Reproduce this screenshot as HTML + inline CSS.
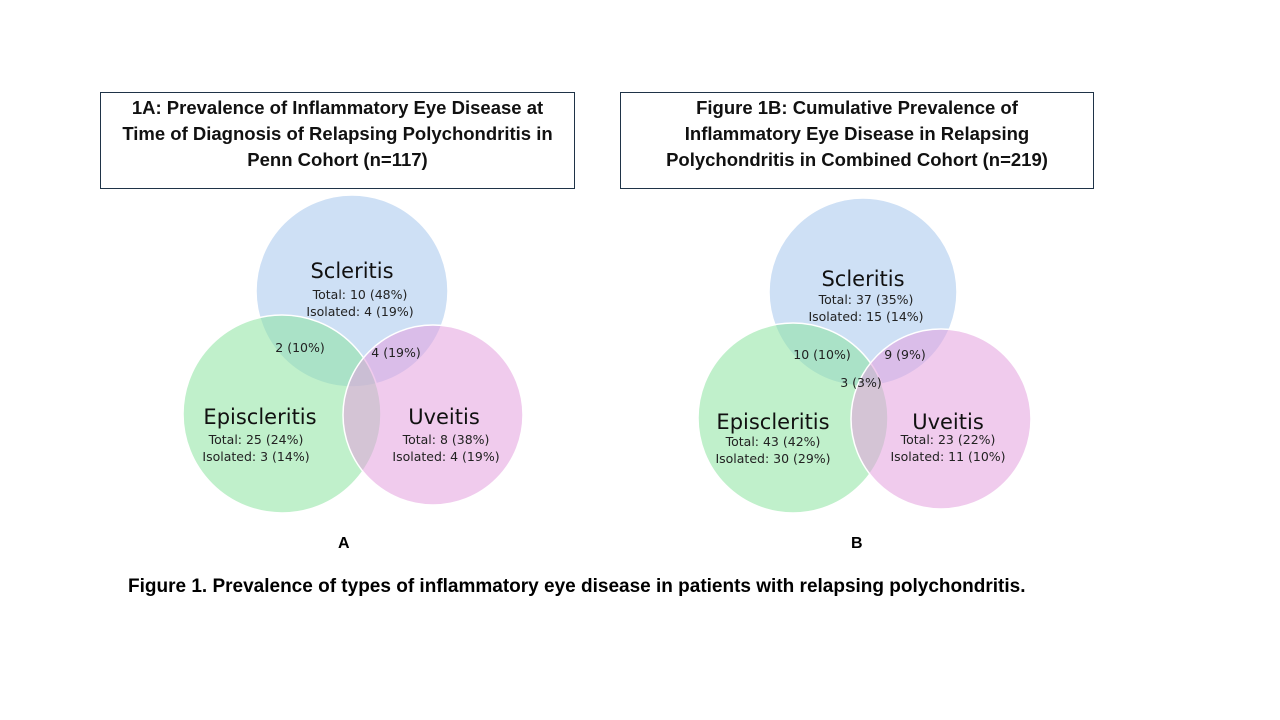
<!DOCTYPE html>
<html><head><meta charset="utf-8"><style>
body{margin:0;background:#fff;width:1280px;height:720px;overflow:hidden;font-family:"Liberation Sans",sans-serif}
.box{position:absolute;border:1px solid #1f3347;background:#fff;text-align:center;font-weight:bold;font-size:18.5px;line-height:26px;color:#111;box-sizing:border-box;padding-top:2px;white-space:nowrap}
.t{position:absolute;font-family:"DejaVu Sans","Liberation Sans",sans-serif;color:#222;text-align:center;white-space:nowrap;transform:translateX(-50%)}
.big{font-size:21px;color:#111}
.sm{font-size:12.5px;line-height:17px}
.lab{position:absolute;font-weight:bold;font-size:16px}
</style></head><body>
<div class="box" style="left:100px;top:92px;width:475px;height:97px">1A: Prevalence of Inflammatory Eye Disease at<br>Time of Diagnosis of Relapsing Polychondritis in<br>Penn Cohort (n=117)</div>
<div class="box" style="left:620px;top:92px;width:474px;height:97px">Figure 1B: Cumulative Prevalence of<br>Inflammatory Eye Disease in Relapsing<br>Polychondritis in Combined Cohort (n=219)</div>
<svg width="1280" height="720" style="position:absolute;left:0;top:0">
<g stroke="#fff" stroke-width="1.5" fill-opacity="0.55">
<circle cx="352" cy="291" r="96" fill="#a6c6ec"/>
<circle cx="282" cy="414" r="99" fill="#8ce3a0"/>
<circle cx="433" cy="415" r="90" fill="#e3a0df"/>
<circle cx="863" cy="292" r="94" fill="#a6c6ec"/>
<circle cx="793" cy="418" r="95" fill="#8ce3a0"/>
<circle cx="941" cy="419" r="90" fill="#e3a0df"/>
</g></svg>
<div class="t big" style="left:352px;top:259px">Scleritis</div>
<div class="t sm" style="left:360px;top:286px">Total: 10 (48%)<br>Isolated: 4 (19%)</div>
<div class="t sm" style="left:300px;top:339px">2 (10%)</div>
<div class="t sm" style="left:396px;top:344px">4 (19%)</div>
<div class="t big" style="left:260px;top:405px">Episcleritis</div>
<div class="t sm" style="left:256px;top:431px">Total: 25 (24%)<br>Isolated: 3 (14%)</div>
<div class="t big" style="left:444px;top:405px">Uveitis</div>
<div class="t sm" style="left:446px;top:431px">Total: 8 (38%)<br>Isolated: 4 (19%)</div>

<div class="t big" style="left:863px;top:267px">Scleritis</div>
<div class="t sm" style="left:866px;top:291px">Total: 37 (35%)<br>Isolated: 15 (14%)</div>
<div class="t sm" style="left:822px;top:346px">10 (10%)</div>
<div class="t sm" style="left:905px;top:346px">9 (9%)</div>
<div class="t sm" style="left:861px;top:374px">3 (3%)</div>
<div class="t big" style="left:773px;top:410px">Episcleritis</div>
<div class="t sm" style="left:773px;top:433px">Total: 43 (42%)<br>Isolated: 30 (29%)</div>
<div class="t big" style="left:948px;top:410px">Uveitis</div>
<div class="t sm" style="left:948px;top:431px">Total: 23 (22%)<br>Isolated: 11 (10%)</div>

<div class="lab" style="left:338px;top:535px">A</div>
<div class="lab" style="left:851px;top:535px">B</div>
<div class="lab" style="left:128px;top:576px;font-size:19px;white-space:nowrap">Figure 1. Prevalence of types of inflammatory eye disease in patients with relapsing polychondritis.</div>
</body></html>
